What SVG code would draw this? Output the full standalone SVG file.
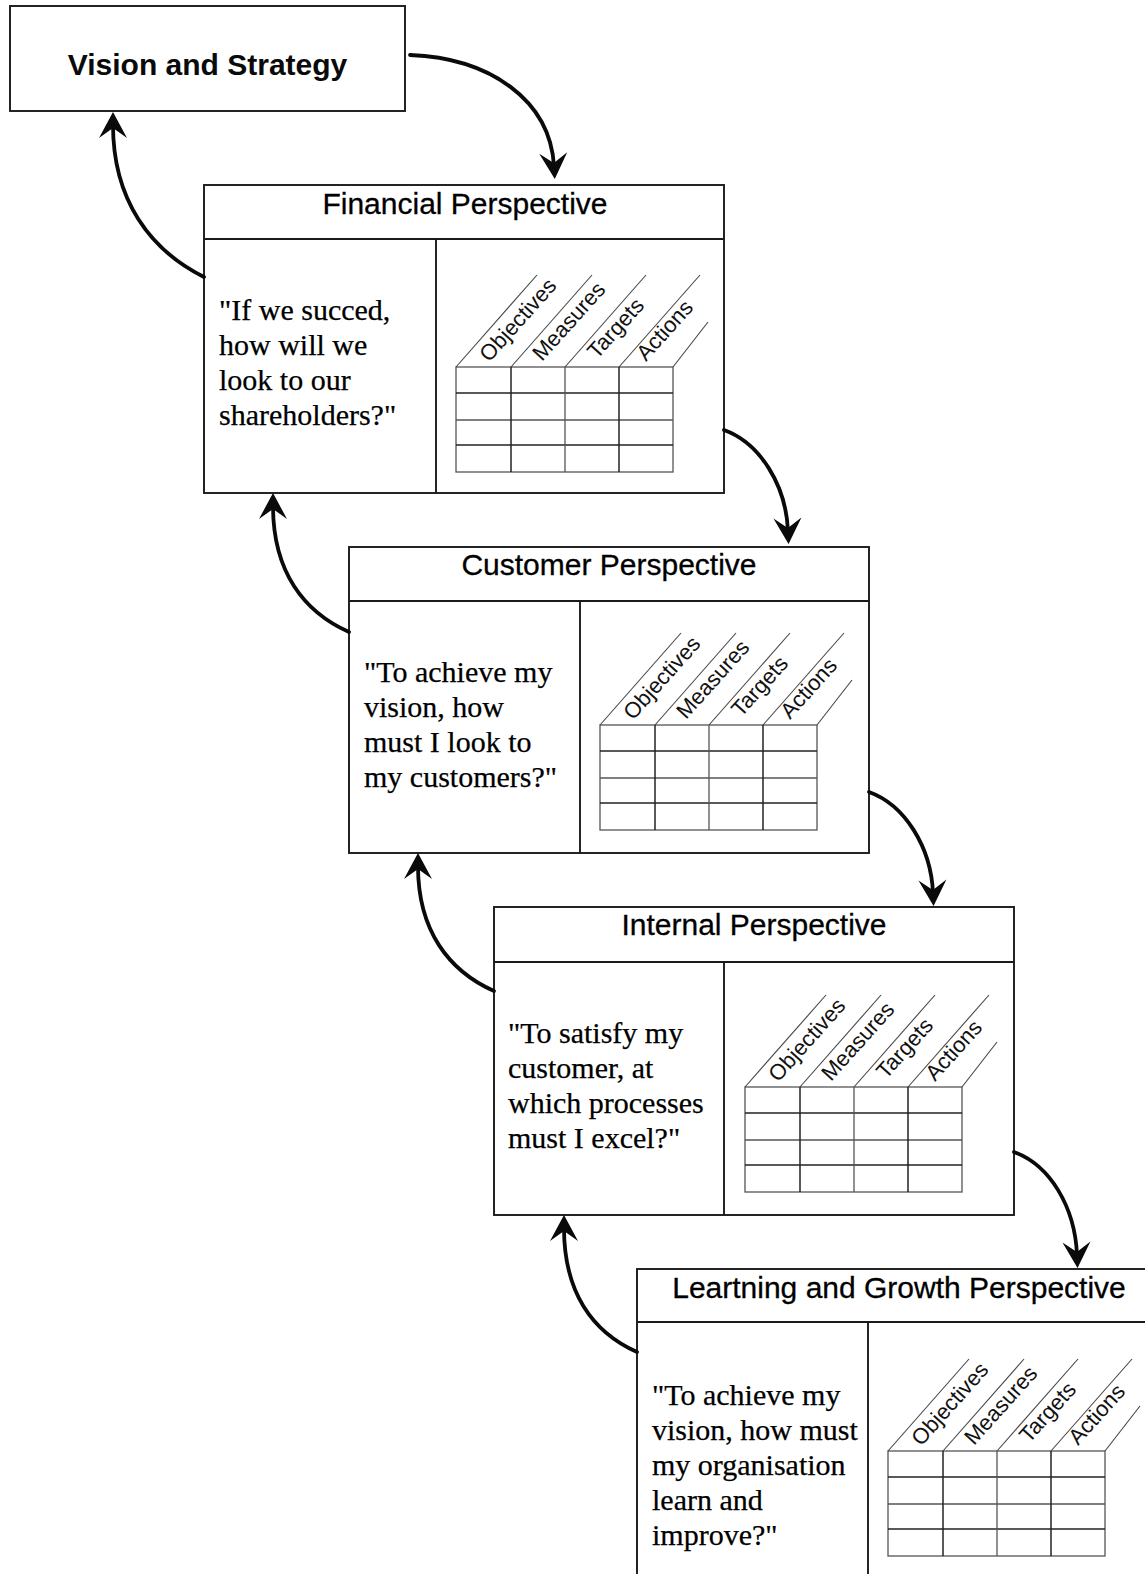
<svg xmlns="http://www.w3.org/2000/svg" xmlns:xlink="http://www.w3.org/1999/xlink" width="1145" height="1574" viewBox="0 0 1145 1574">
  <style>
    .box { fill: #ffffff; stroke: #1a1a1a; stroke-width: 1.9; }
    .rule { fill: none; stroke: #1a1a1a; stroke-width: 1.9; }
    .title { font-family: "Liberation Sans", Arial, sans-serif; font-size: 30px; fill: #000000; stroke: #000000; stroke-width: 0.3; text-anchor: middle; }
    .vision { font-family: "Liberation Sans", Arial, sans-serif; font-size: 30px; font-weight: bold; fill: #0a0a0a; text-anchor: middle; }
    .quote { font-family: "Liberation Serif", "Times New Roman", serif; font-size: 30px; fill: #000000; stroke: #000000; stroke-width: 0.25; }
    .grid { fill: none; stroke: #222222; stroke-width: 1.5; }
    .grid-light { fill: none; stroke: #555555; stroke-width: 1.3; }
    .diag { fill: none; stroke: #444444; stroke-width: 1.1; }
    .head { font-family: "Liberation Sans", Arial, sans-serif; font-size: 22px; fill: #111111; }
    .flow { fill: none; stroke: #0a0a0a; stroke-width: 3.8; stroke-linecap: round; }
  </style>
  <defs>
    <marker id="arrowhead" markerUnits="userSpaceOnUse" orient="auto" markerWidth="36" markerHeight="36" refX="0" refY="0" viewBox="-18 -18 36 36" overflow="visible">
      <path d="M13,0 L-13,-14 L-3,0 L-13,14 Z" fill="#0a0a0a"/>
    </marker>
    <!-- scorecard grid: 4 columns x 4 rows with slanted column headings -->
    <g id="scorecard">
      <rect class="grid-light" x="0" y="0" width="217" height="105"/>
      <line class="grid" x1="0" y1="26" x2="217" y2="26"/>
      <line class="grid-light" x1="0" y1="53" x2="217" y2="53"/>
      <line class="grid" x1="0" y1="78" x2="217" y2="78"/>
      <line class="grid" x1="55" y1="0" x2="55" y2="105"/>
      <line class="grid-light" x1="109" y1="0" x2="109" y2="105"/>
      <line class="grid" x1="163" y1="0" x2="163" y2="105"/>
      <line class="diag" x1="0" y1="0" x2="81" y2="-92"/>
      <line class="diag" x1="55" y1="0" x2="136" y2="-92"/>
      <line class="diag" x1="109" y1="0" x2="190" y2="-92"/>
      <line class="diag" x1="163" y1="0" x2="244" y2="-92"/>
      <line class="diag" x1="217" y1="0" x2="252" y2="-45"/>
      <text class="head" transform="translate(33,-4) rotate(-48)">Objectives</text>
      <text class="head" transform="translate(86,-5) rotate(-48)">Measures</text>
      <text class="head" transform="translate(141,-7) rotate(-48)">Targets</text>
      <text class="head" transform="translate(190,-5) rotate(-48)">Actions</text>
    </g>
  </defs>

  <!-- Vision and Strategy -->
  <g id="vision">
    <rect class="box" x="10" y="6" width="395" height="105"/>
    <text class="vision" x="207.5" y="75">Vision and Strategy</text>
  </g>

  <!-- Financial Perspective -->
  <g id="financial" transform="translate(204,185)">
    <rect class="box" x="0" y="0" width="520" height="308"/>
    <line class="rule" x1="0" y1="54" x2="520" y2="54"/>
    <line class="rule" x1="232" y1="54" x2="232" y2="308"/>
    <text class="title" x="261" y="29">Financial Perspective</text>
    <text class="quote" x="15" y="135">"If we succed,</text>
    <text class="quote" x="15" y="170">how will we</text>
    <text class="quote" x="15" y="205">look to our</text>
    <text class="quote" x="15" y="240">shareholders?"</text>
    <use xlink:href="#scorecard" href="#scorecard" x="252" y="182"/>
  </g>

  <!-- Customer Perspective -->
  <g id="customer" transform="translate(349,547)">
    <rect class="box" x="0" y="0" width="520" height="306"/>
    <line class="rule" x1="0" y1="54" x2="520" y2="54"/>
    <line class="rule" x1="231" y1="54" x2="231" y2="306"/>
    <text class="title" x="260" y="28">Customer Perspective</text>
    <text class="quote" x="15" y="135">"To achieve my</text>
    <text class="quote" x="15" y="170">vision, how</text>
    <text class="quote" x="15" y="205">must I look to</text>
    <text class="quote" x="15" y="240">my customers?"</text>
    <use xlink:href="#scorecard" href="#scorecard" x="251" y="178"/>
  </g>

  <!-- Internal Perspective -->
  <g id="internal" transform="translate(494,907)">
    <rect class="box" x="0" y="0" width="520" height="308"/>
    <line class="rule" x1="0" y1="55" x2="520" y2="55"/>
    <line class="rule" x1="230" y1="55" x2="230" y2="308"/>
    <text class="title" x="260" y="28">Internal Perspective</text>
    <text class="quote" x="14" y="136">"To satisfy my</text>
    <text class="quote" x="14" y="171">customer, at</text>
    <text class="quote" x="14" y="206">which processes</text>
    <text class="quote" x="14" y="241">must I excel?"</text>
    <use xlink:href="#scorecard" href="#scorecard" x="251" y="180"/>
  </g>

  <!-- Learning and Growth Perspective -->
  <g id="learning" transform="translate(637,1269)">
    <rect class="box" x="0" y="0" width="520" height="310"/>
    <line class="rule" x1="0" y1="53" x2="520" y2="53"/>
    <line class="rule" x1="231" y1="53" x2="231" y2="310"/>
    <text class="title" x="262" y="29">Leartning and Growth Perspective</text>
    <text class="quote" x="15" y="136">"To achieve my</text>
    <text class="quote" x="15" y="171">vision, how must</text>
    <text class="quote" x="15" y="206">my organisation</text>
    <text class="quote" x="15" y="241">learn and</text>
    <text class="quote" x="15" y="276">improve?"</text>
    <use xlink:href="#scorecard" href="#scorecard" x="251" y="182"/>
  </g>

  <!-- curved flow arrows between the levels -->
  <g id="connectors">
    <path class="flow" d="M410,55 C490,58 550,100 554,166" marker-end="url(#arrowhead)"/>
    <path class="flow" d="M204,277 C150,250 113,200 113,125" marker-end="url(#arrowhead)"/>
    <path class="flow" d="M724,430 C760,443 786,485 788,531" marker-end="url(#arrowhead)"/>
    <path class="flow" d="M349,632 C304,612 273,572 273,506" marker-end="url(#arrowhead)"/>
    <path class="flow" d="M869,792 C905,805 931,847 933,893" marker-end="url(#arrowhead)"/>
    <path class="flow" d="M494,991 C449,971 418,931 418,866" marker-end="url(#arrowhead)"/>
    <path class="flow" d="M1014,1152 C1050,1165 1075,1207 1077,1255" marker-end="url(#arrowhead)"/>
    <path class="flow" d="M637,1352 C592,1332 564,1292 564,1228" marker-end="url(#arrowhead)"/>
  </g>
</svg>
